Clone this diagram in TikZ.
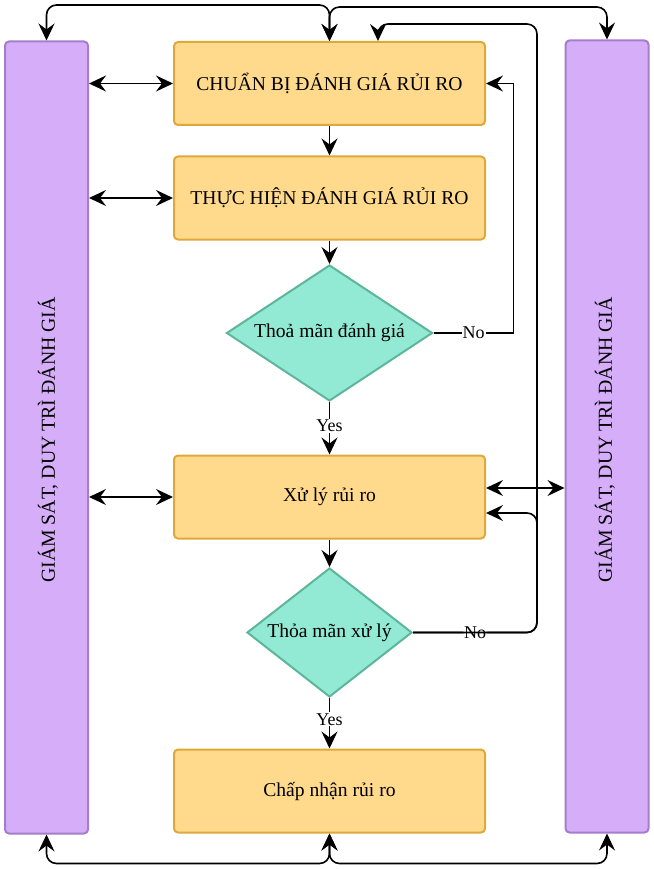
\documentclass[tikz,border=0pt]{standalone}
\usepackage{fontspec}
\setmainfont{Liberation Serif}
\usetikzlibrary{shapes.geometric,arrows.meta}
\definecolor{boxfill}{HTML}{FFD98C}
\definecolor{boxline}{HTML}{DDA93A}
\definecolor{barfill}{HTML}{D5ADF8}
\definecolor{barline}{HTML}{A57ECB}
\definecolor{decfill}{HTML}{93EAD4}
\definecolor{decline}{HTML}{5DB59B}

\begin{document}
\begin{tikzpicture}[x=1pt, y=-1pt, line width=1.6pt,
  >={Stealth[length=17pt,width=16pt,inset=6pt]},
  stepbox/.style={draw=boxline, fill=boxfill, line width=2pt, rounded corners=4pt,
    minimum width=311pt, minimum height=83pt, font=\fontsize{19.6}{23}\selectfont},
  bar/.style={draw=barline, fill=barfill, line width=2pt, rounded corners=4pt,
    minimum width=83pt, minimum height=792pt},
  bartext/.style={rotate=90, font=\fontsize{19.8}{23}\selectfont},
  check/.style={diamond, draw=decline, fill=decfill, line width=2pt, inner sep=0pt,
    font=\fontsize{19.6}{23}\selectfont},
  lab/.style={fill=white, inner sep=1pt, font=\fontsize{18}{20}\selectfont}]

\useasboundingbox (0,0) rectangle (653,869);

\def\cx{329.5}

% side bars
\node[bar] (lbar) at (46.5,437.5) {};
\node[bartext] (ltxt) at (48,440) {GIÁM SÁT, DUY TRÌ ĐÁNH GIÁ};
\node[bar] (rbar) at (607,436.5) {};
\node[bartext] (rtxt) at (605,440) {GIÁM SÁT, DUY TRÌ ĐÁNH GIÁ};

% steps
\node[stepbox] (prep) at (\cx,83.5) {CHUẨN BỊ ĐÁNH GIÁ RỦI RO};
\node[stepbox] (impl) at (\cx,198) {THỰC HIỆN ĐÁNH GIÁ RỦI RO};
\node[check, aspect=1.5, minimum width=206pt, minimum height=136pt] (d1) at (\cx,333) {Thoả mãn đánh giá};
\node[stepbox] (proc) at (\cx,497) {Xử lý rủi ro};
\node[check, aspect=1.28, minimum width=165pt, minimum height=129pt] (d2) at (\cx,632.5) {Thỏa mãn xử lý};
\node[stepbox] (acc) at (\cx,791) {Chấp nhận rủi ro};

% main flow
\draw[->] (prep.south) -- (impl.north);
\draw[->] (impl.south) -- (d1.north);
\draw[->] (d1.south) -- node[lab, pos=0.45] {Yes} (proc.north);
\draw[->] (proc.south) -- (d2.north);
\draw[->] (d2.south) -- node[lab, pos=0.42] {Yes} (acc.north);

% loops back
\draw[->] (d1.east) -- node[lab] {No} ++(80,0) |- (prep.east);
\draw[->, rounded corners=10pt] (d2.east) -- node[lab] {No} ++(124,0) |- ([yshift=-16pt]proc.east);
\draw[->, rounded corners=10pt] (d2.east) -- ++(124,0) |- ([xshift=48.5pt,yshift=17pt]prep.north)
  -- ([xshift=48.5pt]prep.north);

% links to the bars
\draw[<->, rounded corners=10pt] (prep.north) -- ++(0,-36) -| (lbar.north);
\draw[<->, rounded corners=10pt] (prep.north) -- ++(0,-34) -| (rbar.north);
\draw[<->, rounded corners=10pt] (acc.south) -- ++(0,30) -| (lbar.south);
\draw[<->, rounded corners=10pt] (acc.south) -- ++(0,30) -| (rbar.south);
\draw[<->] (lbar.east |- prep.west) -- (prep.west);
\draw[<->] (lbar.east |- impl.west) -- (impl.west);
\draw[<->] (lbar.east |- proc.west) -- (proc.west);
\coordinate (procR) at ([yshift=9pt]proc.east);
\draw[<->] (procR) -- (procR -| rbar.west);

\end{tikzpicture}
\end{document}
